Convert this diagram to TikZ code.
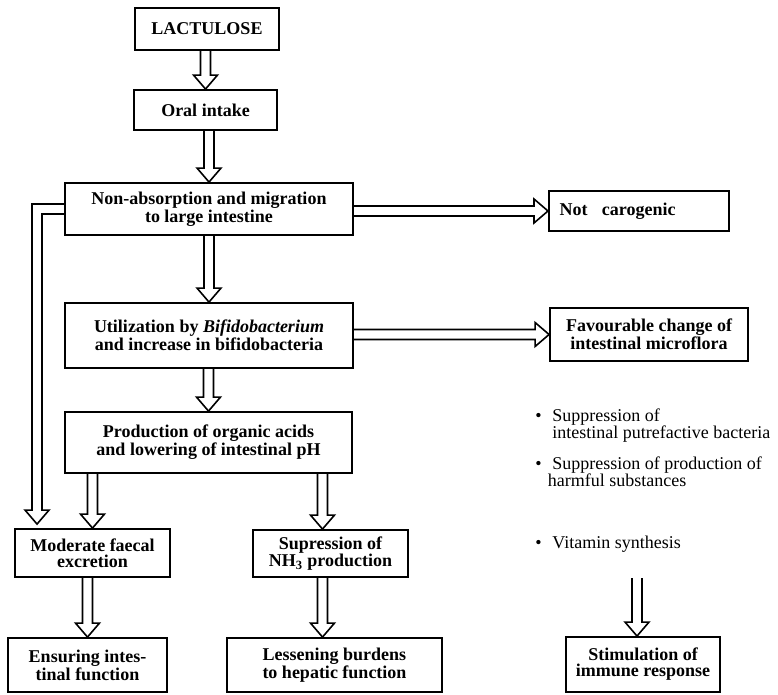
\documentclass[tikz,border=0pt]{standalone}
\usepackage{fontspec}
\setmainfont{Liberation Serif}
\usetikzlibrary{calc}

\newlength\shaft   \setlength\shaft{3.75pt}
\newlength\headw   \setlength\headw{9pt}
\newlength\headlen \setlength\headlen{10.5pt}

\tikzset{
    box/.style={draw, line width=1.4pt, align=center, inner sep=2pt,
        font=\fontsize{13.5}{12}\selectfont\bfseries},
    note/.style={anchor=base west, align=left, inner sep=0pt,
        font=\fontsize{13.5}{12.5}\selectfont},
    hollowdown/.style={line width=1.2pt, to path={let \p1=(\tikztostart), \p2=(\tikztotarget) in
        (\x2-\shaft,\y1) -- (\x2-\shaft,\y2+\headlen) -- (\x2-\headw,\y2+\headlen) -- (\x2,\y2)
        -- (\x2+\headw,\y2+\headlen) -- (\x2+\shaft,\y2+\headlen) -- (\x2+\shaft,\y1)}},
    hollowright/.style={line width=1.2pt, to path={let \p1=(\tikztostart), \p2=(\tikztotarget) in
        (\x1,\y2+\shaft) -- (\x2-\headlen,\y2+\shaft) -- (\x2-\headlen,\y2+\headw) -- (\x2,\y2)
        -- (\x2-\headlen,\y2-\headw) -- (\x2-\headlen,\y2-\shaft) -- (\x1,\y2-\shaft)}},
    hollowelbow/.style={line width=1.2pt, to path={let \p1=(\tikztostart), \p2=(\tikztotarget) in
        (\x1,\y1+\shaft) -- (\x2-\shaft,\y1+\shaft) -- (\x2-\shaft,\y2+\headlen) -- (\x2-\headw,\y2+\headlen)
        -- (\x2,\y2) -- (\x2+\headw,\y2+\headlen) -- (\x2+\shaft,\y2+\headlen) -- (\x2+\shaft,\y1-\shaft)
        -- (\x1,\y1-\shaft)}}
}

\begin{document}
\begin{tikzpicture}[x=0.75pt, y=0.75pt]

    \useasboundingbox (0,0) rectangle (778,-695);

    \node[box, minimum width=108pt, minimum height=31.5pt] (lact) at (207,-29) {LACTULOSE};
    \node[box, minimum width=107.25pt, minimum height=30pt] (oral) at (205.5,-110) {Oral intake};
    \node[box, minimum width=216pt, minimum height=39pt] (nonabs) at (209,-209)
        {Non-absorption and migration\\to large intestine};
    \node[box, anchor=west, align=left, inner xsep=8pt, text width=119pt, minimum height=30pt]
        (notcar) at (548,-211) {Not\hspace{0.8em}carogenic};
    \node[box, minimum width=216pt, minimum height=48.75pt] (util) at (209,-335.5)
        {Utilization by \textit{Bifidobacterium}\\and increase in bifidobacteria};
    \node[box, minimum width=148.5pt, minimum height=39.75pt] (favour) at (649,-334.5)
        {Favourable change of\\intestinal microflora};
    \node[box, minimum width=215.25pt, minimum height=45.75pt] (prod) at (208.5,-442.5)
        {Production of organic acids\\and lowering of intestinal pH};
    \node[box, minimum width=116.25pt, minimum height=36pt] (faecal) at (92.5,-553)
        {Moderate faecal\\excretion};
    \node[box, minimum width=116.25pt, minimum height=35.25pt] (ammonia) at (330.5,-553.5)
        {Supression of\\NH\textsubscript{3} production};
    \node[box, minimum width=119.25pt, minimum height=40.5pt] (ensur) at (87.5,-665)
        {Ensuring intes-\\tinal function};
    \node[box, minimum width=161.25pt, minimum height=40.5pt] (lessen) at (334.5,-665)
        {Lessening burdens\\to hepatic function};
    \node[box, minimum width=115.5pt, minimum height=41.25pt] (stim) at (643,-664.5)
        {Stimulation of\\immune response};

    \node[note] (putref) at (535,-438)
        {\textbullet\hspace{0.6em}Suppression of\\\hspace{0.95em}intestinal putrefactive bacteria};
    \node[note] (harmful) at (535,-486)
        {\textbullet\hspace{0.6em}Suppression of production of\\\hspace{0.7em}harmful substances};
    \node[note] (vitamin) at (535,-548) {\textbullet\hspace{0.6em}Vitamin synthesis};
    \coordinate (vitend) at (637,-578);

    \foreach \a/\b in {lact/oral,oral/nonabs,nonabs/util,util/prod}
        \draw[hollowdown] (\a.south) to (\b.north);
    \draw[hollowdown] (prod.south) to (faecal.north);
    \draw[hollowdown] (prod.south) to ([xshift=-6pt]ammonia.north);
    \draw[hollowdown] (faecal.south) to (ensur.north);
    \draw[hollowdown] (ammonia.south) to ([xshift=-9pt]lessen.north);
    \draw[hollowdown] (vitend.center) to ([xshift=-4.5pt]stim.north);
    \draw[hollowelbow] (nonabs.west) to ([xshift=-41.6pt,yshift=3pt]faecal.north);

    \draw[hollowright] (nonabs.east) to (notcar.west);
    \draw[hollowright] (util.east) to (favour.west);
\end{tikzpicture}
\end{document}
